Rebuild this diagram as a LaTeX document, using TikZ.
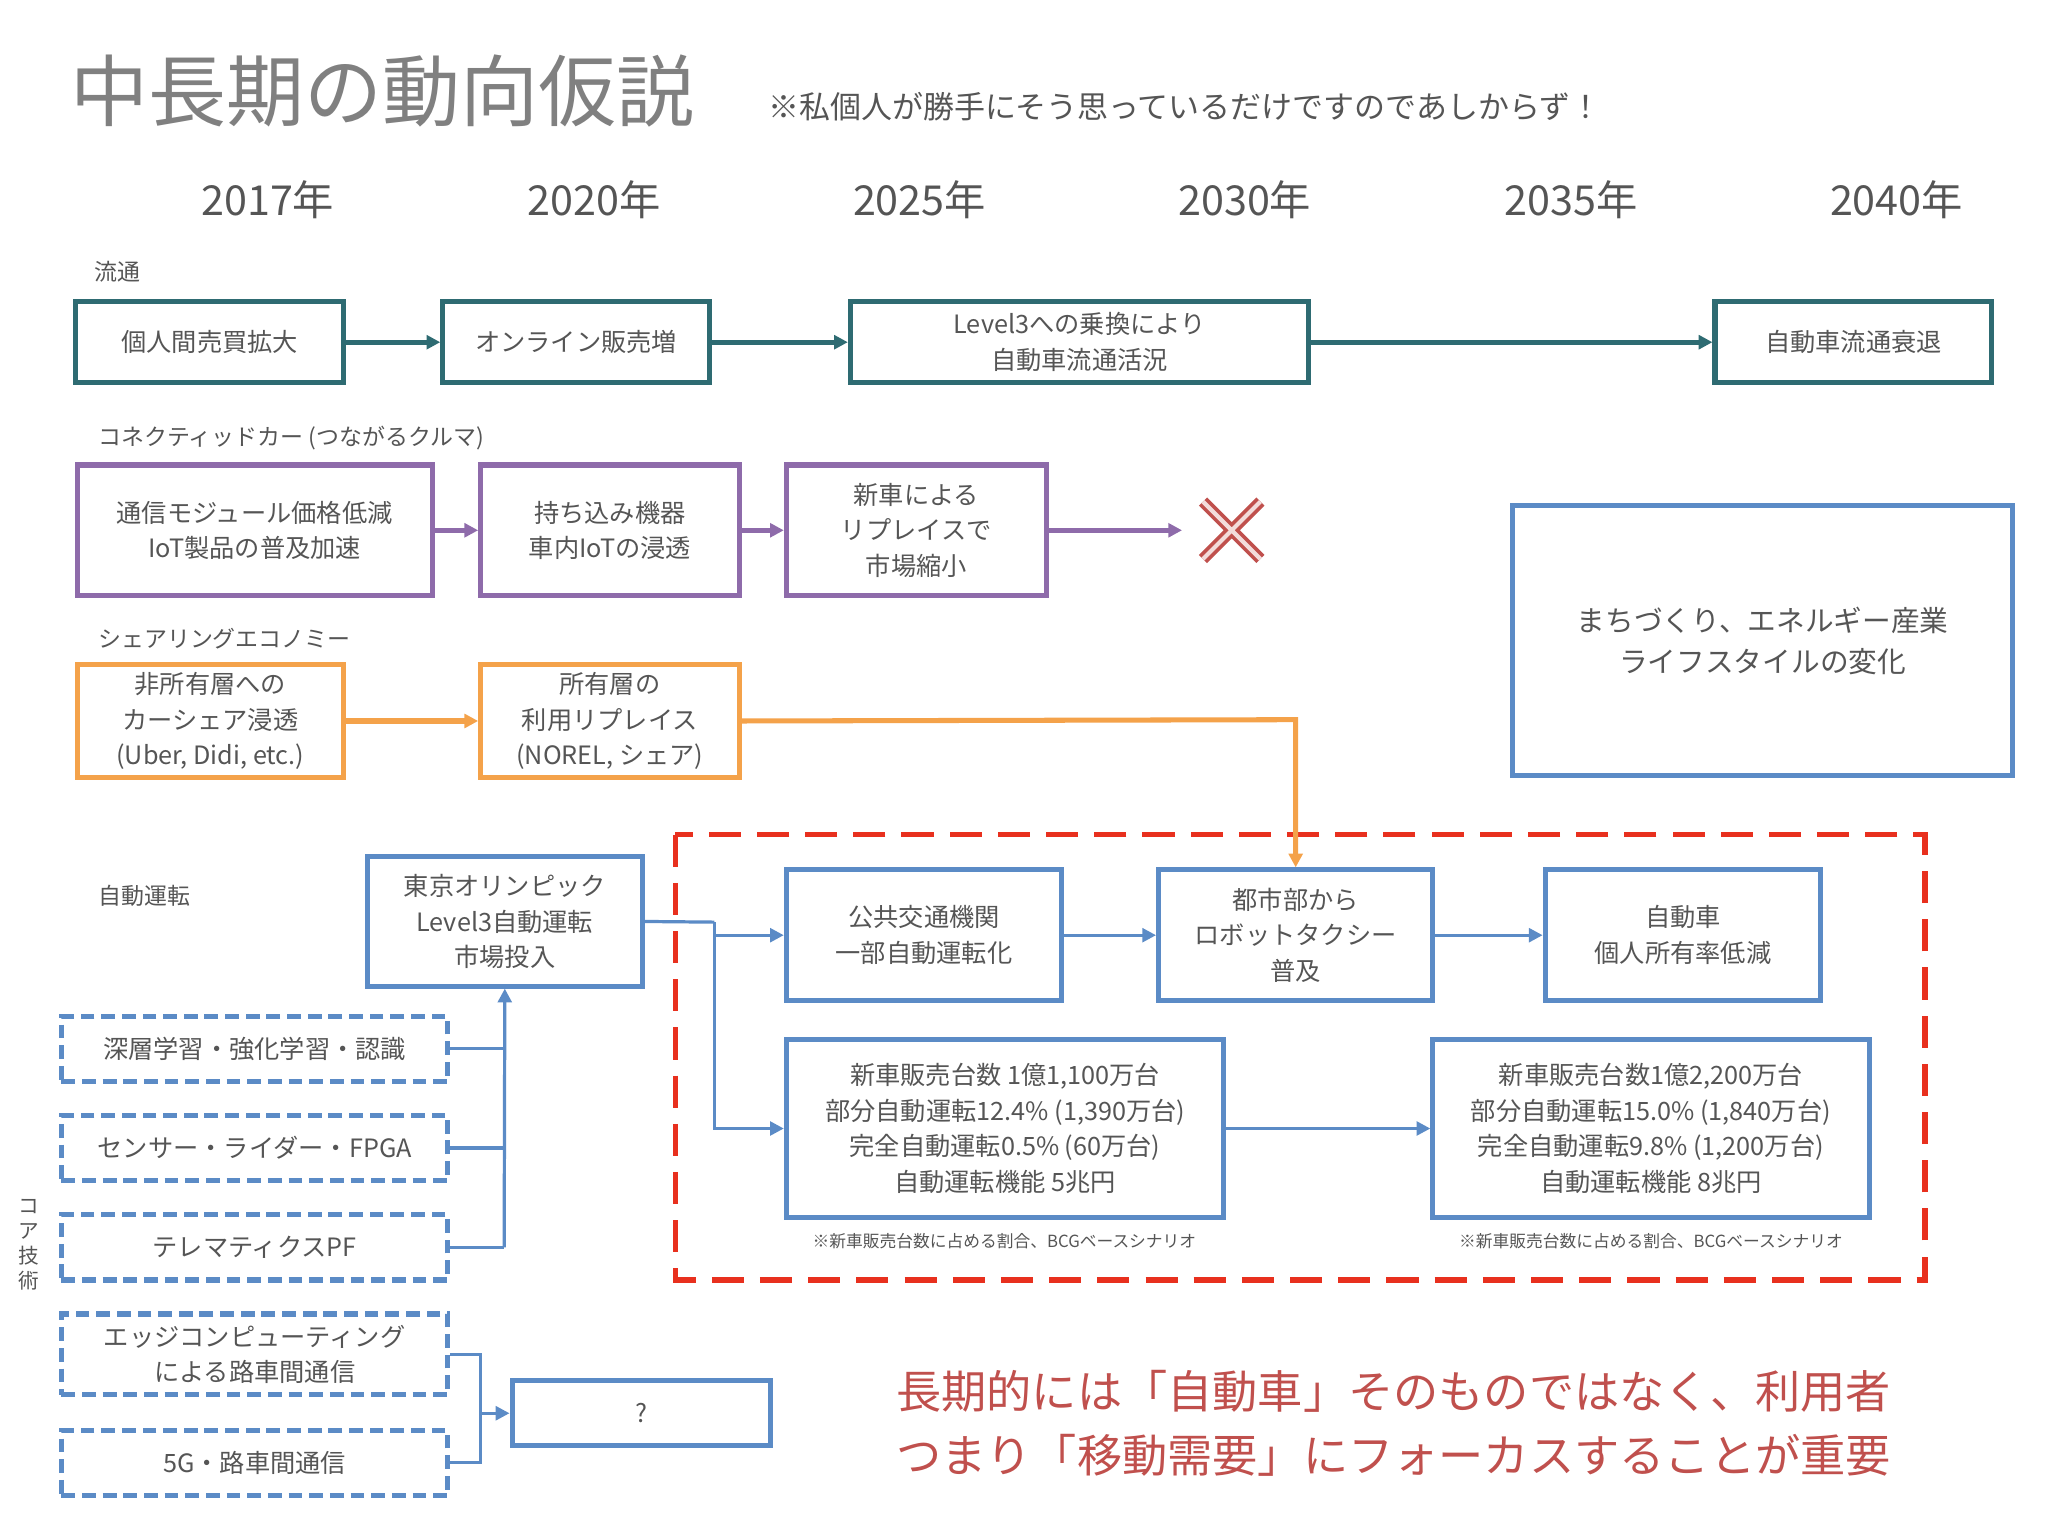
\documentclass[tikz,border=0pt]{standalone}
\usepackage{fontspec}
\setmainfont{Noto Sans CJK JP}
\usetikzlibrary{arrows.meta}
\definecolor{teal1}{HTML}{2E6B72}
\definecolor{purp}{HTML}{8E6BAA}
\definecolor{oran}{HTML}{F4A24A}
\definecolor{blu}{HTML}{5B8BC6}
\definecolor{redd}{HTML}{E8301E}
\definecolor{gtxt}{HTML}{555555}
\definecolor{rtxt}{HTML}{C0504D}
\begin{document}
\begin{tikzpicture}[x=0.02cm,y=-0.02cm,
 box/.style={draw,line width=2.2pt,align=center,inner sep=0pt,font=\fontsize{11}{15.5}\selectfont,text=gtxt},
 lab/.style={anchor=west,font=\fontsize{10}{12}\selectfont,text=gtxt},
 yr/.style={font=\fontsize{18}{20}\selectfont,text=gtxt},
 note/.style={font=\fontsize{7.3}{8}\selectfont,text=gtxt},
 dbox/.style={draw=blu,line width=2.2pt,dashed,dash pattern=on 6pt off 3pt,align=center,inner sep=0pt,font=\fontsize{11}{15.5}\selectfont,text=gtxt},
 ar/.style={-{Triangle[length=6pt,width=6pt]}}]
\useasboundingbox (0,0) rectangle (1568,1176);
\node[anchor=west,font=\fontsize{34}{36}\selectfont,text=gray] (title) at (48,70) {中長期の動向仮説};
\node[anchor=west,font=\fontsize{13.5}{15}\selectfont,text=gtxt] (sub) at (582,82) {※私個人が勝手にそう思っているだけですのであしからず！};
\foreach \x/\t [count=\i] in {205/2017,455/2020,704/2025,953/2030,1203/2035,1452/2040}
 \node[yr] (y\i) at (\x,153) {\t 年};
% 流通
\node[lab] (l1) at (66,208) {流通};
\node[box,draw=teal1,minimum width=4.1cm,minimum height=1.24cm] (a1) at (160.5,262) {個人間売買拡大};
\node[box,draw=teal1,minimum width=4.08cm,minimum height=1.24cm] (a2) at (441,262) {オンライン販売増};
\node[box,draw=teal1,minimum width=7.02cm,minimum height=1.24cm] (a3) at (826.5,262) {Level3への乗換により\\自動車流通活況};
\node[box,draw=teal1,minimum width=4.24cm,minimum height=1.24cm] (a4) at (1419,262) {自動車流通衰退};
\foreach \p/\q in {a1/a2,a2/a3,a3/a4} \draw[teal1,line width=2.2pt,ar] (\p) -- (\q);
% connected
\node[lab] (l2) at (69,335) {コネクティッドカー (つながるクルマ)};
\node[box,draw=purp,minimum width=5.44cm,minimum height=2cm] (c1) at (195,406) {通信モジュール価格低減\\IoT製品の普及加速};
\node[box,draw=purp,minimum width=3.96cm,minimum height=2cm] (c2) at (467,406) {持ち込み機器\\車内IoTの浸透};
\node[box,draw=purp,minimum width=3.98cm,minimum height=2cm] (c3) at (701.5,406) {新車による\\リプレイスで\\市場縮小};
\draw[purp,line width=2.2pt,ar] (c1) -- (c2);
\draw[purp,line width=2.2pt,ar] (c2) -- (c3);
\draw[purp,line width=2.2pt,ar] (c3) -- (905,406);
\draw[rtxt,line width=5pt] (921,384) -- (965,428) (921,428) -- (965,384);
\draw[white!80!rtxt,line width=1.8pt] (921,384) -- (965,428) (921,428) -- (965,384);
\node[box,draw=blu,minimum width=7.66cm,minimum height=4.14cm,font=\fontsize{12.5}{18}\selectfont] (big) at (1349.5,490.5) {まちづくり、エネルギー産業\\ライフスタイルの変化};
% sharing
\node[lab] (l3) at (69,489) {シェアリングエコノミー};
\node[box,draw=oran,minimum width=4.08cm,minimum height=1.72cm] (s1) at (161,552) {非所有層への\\カーシェア浸透\\(Uber, Didi, etc.)};
\node[box,draw=oran,minimum width=3.96cm,minimum height=1.72cm] (s2) at (467,552) {所有層の\\利用リプレイス\\(NOREL, シェア)};
\draw[oran,line width=2.2pt,ar] (s1) -- (s2);
% autonomous
\draw[redd,line width=2.4pt,dash pattern=on 14pt off 7pt] (517,639) rectangle (1474,980);
\node[lab] (l4) at (69,686) {自動運転};
\node[box,draw=blu,minimum width=4.22cm,minimum height=1.98cm] (t) at (386.5,705.5) {東京オリンピック\\Level3自動運転\\市場投入};
\node[box,draw=blu,minimum width=4.22cm,minimum height=2cm] (p1) at (707.5,716) {公共交通機関\\一部自動運転化};
\node[box,draw=blu,minimum width=4.2cm,minimum height=2cm] (p2) at (992,716) {都市部から\\ロボットタクシー\\普及};
\node[box,draw=blu,minimum width=4.22cm,minimum height=2cm] (p3) at (1288.5,716) {自動車\\個人所有率低減};
\node[box,draw=blu,minimum width=6.7cm,minimum height=2.72cm] (st1) at (769.5,864) {新車販売台数 1億1,100万台\\部分自動運転12.4\% (1,390万台)\\完全自動運転0.5\% (60万台)\\自動運転機能 5兆円};
\node[box,draw=blu,minimum width=6.68cm,minimum height=2.72cm] (st2) at (1264,864) {新車販売台数1億2,200万台\\部分自動運転15.0\% (1,840万台)\\完全自動運転9.8\% (1,200万台)\\自動運転機能 8兆円};
\node[note] (n1) at (769,950) {※新車販売台数に占める割合、BCGベースシナリオ};
\node[note] (n2) at (1264,950) {※新車販売台数に占める割合、BCGベースシナリオ};
\draw[oran,line width=2.2pt,ar] (s2.east) -- (992,551) -- (p2.north);
\coordinate (j) at (547,706);
\draw[blu,line width=1.4pt] (t.east) -- (j);
\draw[blu,line width=1.4pt,ar] (j) -- (547,716) -- (p1.west);
\draw[blu,line width=1.4pt,ar] (j) |- (st1.west);
\draw[blu,line width=1.4pt,ar] (p1) -- (p2);
\draw[blu,line width=1.4pt,ar] (p2) -- (p3);
\draw[blu,line width=1.4pt,ar] (st1) -- (st2);
% core tech
\node[dbox,minimum width=5.92cm,minimum height=1cm] (d1) at (195,803) {深層学習・強化学習・認識};
\node[dbox,minimum width=5.92cm,minimum height=1cm] (d2) at (195,879) {センサー・ライダー・FPGA};
\node[dbox,minimum width=5.92cm,minimum height=1cm] (d3) at (195,955) {テレマティクスPF};
\node[dbox,minimum width=5.92cm,minimum height=1.24cm] (d4) at (195,1037) {エッジコンピューティング\\による路車間通信};
\node[dbox,minimum width=5.92cm,minimum height=1cm] (d5) at (195,1120) {5G・路車間通信};
\node[box,draw=blu,minimum width=3.96cm,minimum height=1cm] (q) at (491,1082) {?};
\coordinate (v) at (386,955);
\draw[blu,line width=1.4pt] (d1.east) -- (386,803) (d2.east) -- (386,879) (d3.east) -- (v);
\draw[blu,line width=1.4pt,ar] (v) -- (t.south);
\coordinate (w) at (368,1082);
\draw[blu,line width=1.4pt] (d4.east) -- (368,1037) -- (368,1120) -- (d5.east);
\draw[blu,line width=1.4pt,ar] (w) -- (q.west);
\node[font=\fontsize{9}{11}\selectfont,text=gtxt,align=center] (core) at (22,953) {コ\\ア\\技\\術};
\node[anchor=west,align=left,font=\fontsize{19.7}{28}\selectfont,text=rtxt] (msg) at (680,1090) {長期的には「自動車」そのものではなく、利用者\\つまり「移動需要」にフォーカスすることが重要};
\end{tikzpicture}
\end{document}
